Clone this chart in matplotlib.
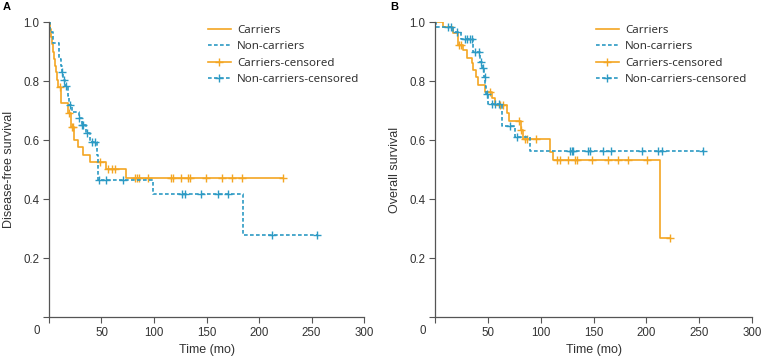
import numpy as np
import matplotlib
matplotlib.use( 'Agg' )
import matplotlib.pyplot as plt
from matplotlib.lines import Line2D

plt.rcParams['font.family'] = ['Liberation Sans', 'DejaVu Sans']

ORANGE = '#F4A623'
BLUE   = '#2C9AC4'

# Panel A : disease-free survival
a_car_t    = [ 1, 2, 3, 4, 5, 6, 7, 8, 9, 11.4, 18.4, 20.8, 24, 27.5, 32, 39.5, 54.5, 73 ]
a_car_s    = [ 0.975, 0.95, 0.925, 0.90, 0.875, 0.85, 0.83, 0.805, 0.78, 0.727, 0.69, 0.645,
               0.60, 0.578, 0.55, 0.527, 0.503, 0.471 ]
a_car_cens = [ 10.5, 19.5, 21.5, 23.3, 48.6, 56.5, 60, 63, 82, 83.5, 86, 94.6, 116, 118, 126,
               132, 134, 149.5, 164.5, 174, 183.5, 223 ]

a_non_t    = [ 0.8, 3.5, 10, 11, 12, 13.5, 15.5, 18, 19.5, 21.5, 28.5, 31, 35, 39.5, 45.4, 47,
               98.7, 185 ]
a_non_s    = [ 0.967, 0.928, 0.875, 0.85, 0.832, 0.803, 0.783, 0.75, 0.72, 0.696, 0.676, 0.65,
               0.625, 0.594, 0.55, 0.464, 0.417, 0.278 ]
a_non_cens = [ 12.5, 14, 16.5, 20, 29, 31.5, 32.5, 35.9, 40.6, 43.8, 48, 54.3, 70.8, 127, 129.5,
               144.4, 161.3, 170, 212, 255 ]

# Panel B : overall survival
b_car_t    = [ 8, 17, 21.5, 26.8, 30, 34.7, 36.3, 38.8, 41, 47.3, 54, 57, 67.8, 70.4, 81, 83,
               108.8, 112, 213 ]
b_car_s    = [ 0.982, 0.962, 0.922, 0.905, 0.877, 0.86, 0.837, 0.815, 0.786, 0.764, 0.741, 0.72,
               0.69, 0.665, 0.634, 0.605, 0.56, 0.532, 0.267 ]
b_car_cens = [ 23, 25, 52, 61.5, 64.6, 79, 81.5, 85, 87, 95.5, 115, 118.3, 126, 132.5, 134, 149,
               164, 173.5, 183, 201, 222 ]

b_non_t    = [ 0.5, 17.4, 25, 35.5, 42.6, 44.8, 46.5, 47.5, 48.5, 50.5, 63, 75.7, 90 ]
b_non_s    = [ 0.982, 0.965, 0.941, 0.897, 0.866, 0.843, 0.815, 0.783, 0.755, 0.722, 0.647,
               0.609, 0.564 ]
b_non_cens = [ 12.6, 14.8, 20.5, 28.4, 30.6, 33, 34.7, 38, 41.3, 43.5, 45.3, 47, 49.3, 53.6,
               56.8, 60.9, 71, 77.3, 127.8, 129.3, 131, 145, 146.7, 159.3, 167, 195.6, 211.4,
               214.5, 254 ]

legend_labels = [ 'Carriers', 'Non-carriers', 'Carriers-censored', 'Non-carriers-censored' ]
x_ticks = [ 0, 50, 100, 150, 200, 250, 300 ]
y_ticks = [ 0, 0.2, 0.4, 0.6, 0.8, 1.0 ]

DASH = ( 0 , ( 2.2 , 1.4 ) )


def surv_at( t_ev , s_ev , tc ):
    t_ev = np.asarray( t_ev )
    s_all = np.concatenate( [ [ 1.0 ] , s_ev ] )
    return s_all[ np.searchsorted( t_ev , tc , side='right' ) ]


def plot_km( ax , t_ev , s_ev , cens , color , ls ):
    end = max( max( cens ) , t_ev[-1] )
    x = [ 0 ] + list( t_ev ) + [ end ]
    y = [ 1.0 ] + list( s_ev ) + [ s_ev[-1] ]
    ax.step( x , y , where='post' , color=color , lw=1.2 , linestyle=ls )
    ys = [ surv_at( t_ev , s_ev , c ) for c in cens ]
    ax.plot( cens , ys , linestyle='none' , marker='+' , ms=6 , mew=1.0 , color=color )


def style_axes( ax , ylabel ):
    ax.set_xlim( 0 , 300 )
    ax.set_ylim( 0 , 1.0 )
    ax.set_xticks( x_ticks )
    ax.set_xticklabels( [ '' ] + [ str(v) for v in x_ticks[1:] ] )
    ax.set_yticks( y_ticks )
    ax.set_yticklabels( [ '' ] + [ '%.1f' % v for v in y_ticks[1:] ] )
    for s in [ 'top' , 'right' ]:
        ax.spines[s].set_visible( False )
    for s in [ 'left' , 'bottom' ]:
        ax.spines[s].set_color( '#555555' )
        ax.spines[s].set_linewidth( 0.9 )
    ax.tick_params( direction='out' , length=4 , width=0.8 , color='#555555' ,
                    labelsize=8.3 , labelcolor='#333333' , pad=3 )
    ax.text( -0.038 , -0.028 , '0' , transform=ax.transAxes , ha='center' , va='top' ,
             fontsize=8.3 , color='#333333' )
    ax.set_xlabel( 'Time (mo)' , fontsize=9 , color='#333333' , labelpad=4 )
    ax.set_ylabel( ylabel , fontsize=9 , color='#333333' , labelpad=6 )

    handles = [ Line2D( [] , [] , color=ORANGE , lw=1.2 ),
                Line2D( [] , [] , color=BLUE , lw=1.2 , linestyle=DASH ),
                Line2D( [] , [] , color=ORANGE , lw=1.2 , marker='+' , ms=6 ),
                Line2D( [] , [] , color=BLUE , lw=1.2 , linestyle=DASH , marker='+' , ms=6 ) ]
    leg = ax.legend( handles , legend_labels , loc='upper right' , bbox_to_anchor=( 1.0 , 1.005 ) ,
                     frameon=False , handlelength=2.0 , handletextpad=0.55 ,
                     labelspacing=0.45 , borderaxespad=0 ,
                     prop={ 'family' : [ 'Noto Sans' , 'DejaVu Sans' ] , 'size' : 8.3 } )
    for t in leg.get_texts():
        t.set_color( '#333333' )


fig = plt.figure( figsize=( 7.62 , 3.58 ) , dpi=100 )
ax_a = fig.add_axes( [ 0.0643 , 0.1145 , 0.4134 , 0.824 ] )
ax_b = fig.add_axes( [ 0.5709 , 0.1145 , 0.4160 , 0.824 ] )

plot_km( ax_a , a_car_t , a_car_s , a_car_cens , ORANGE , '-' )
plot_km( ax_a , a_non_t , a_non_s , a_non_cens , BLUE , DASH )
style_axes( ax_a , 'Disease-free survival' )

plot_km( ax_b , b_car_t , b_car_s , b_car_cens , ORANGE , '-' )
plot_km( ax_b , b_non_t , b_non_s , b_non_cens , BLUE , DASH )
style_axes( ax_b , 'Overall survival' )

fig.text( 3 / 762 , 1 - 2 / 358 , 'A' , fontsize=8 , fontweight='bold' , va='top' , ha='left' )
fig.text( 390 / 762 , 1 - 2 / 358 , 'B' , fontsize=8 , fontweight='bold' , va='top' , ha='left' )

fig.savefig( 'out.png' , dpi=100 )
